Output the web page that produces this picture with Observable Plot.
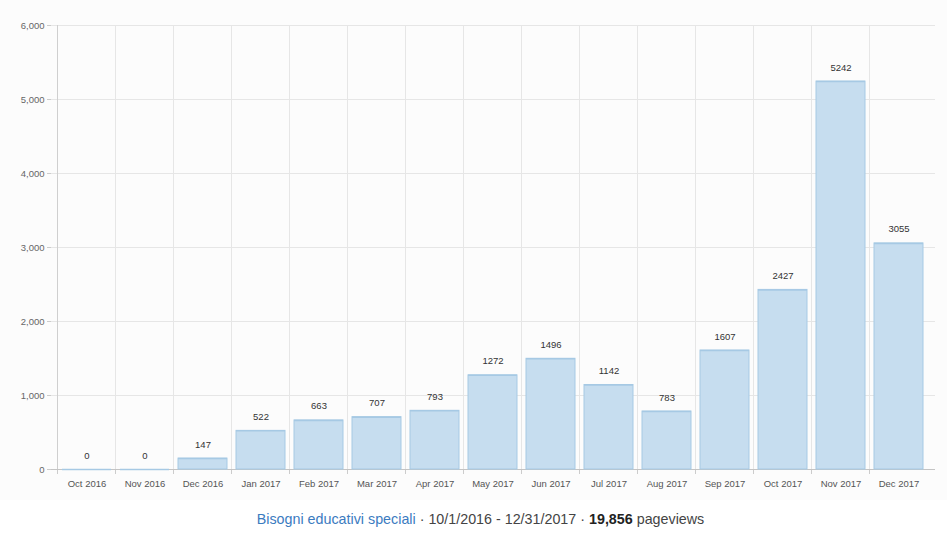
<!DOCTYPE html>
<html><head><meta charset="utf-8">
<script src="https://cdn.jsdelivr.net/npm/d3@7"></script>
<script src="https://cdn.jsdelivr.net/npm/@observablehq/plot@0.6"></script>
<style>
body{margin:0;background:#fff;font-family:"Liberation Sans",Arial,sans-serif;}
#wrap{width:947px;}
#cap{text-align:center;font-size:14.3px;color:#444;height:38px;line-height:38px;padding-left:14px;}
#cap .t{color:#3b7bbf;}
#cap b{color:#222;font-weight:bold;}
</style></head><body>
<div id="wrap"></div>
<script>
const months = ["Oct 2016","Nov 2016","Dec 2016","Jan 2017","Feb 2017","Mar 2017","Apr 2017","May 2017","Jun 2017","Jul 2017","Aug 2017","Sep 2017","Oct 2017","Nov 2017","Dec 2017"];
const pageviews = [0,0,147,522,663,707,793,1272,1496,1142,783,1607,2427,5242,3055];
const yTicks = [0,1000,2000,3000,4000,5000,6000];
const title = "Bisogni educativi speciali";
const dateRange = "10/1/2016 - 12/31/2017";
const total = "19,856";

const data = months.map((m,i)=>({month:m, value:pageviews[i]}));

const boundaries = (index, scales, values, dims) => {
  const x = scales.x, y = scales.y;
  const step = x.step(), bw = x.bandwidth();
  const g = d3.create("svg:g");
  const edges = months.map(m => x(m) - (step-bw)/2);
  edges.forEach((e,i)=>{
    g.append("line").attr("x1",e).attr("x2",e).attr("y1",dims.marginTop).attr("y2",dims.height-dims.marginBottom)
      .attr("stroke", i===0 ? "#cfcfcf" : "#e6e6e6").attr("stroke-width",1);
    g.append("line").attr("x1",e).attr("x2",e).attr("y1",y(0)).attr("y2",y(0)+5).attr("stroke","#ccc");
  });
  return g.node();
};

const chart = Plot.plot({
  width: 947,
  height: 500,
  marginTop: 25,
  marginBottom: 31,
  marginLeft: 51,
  marginRight: 12,
  style: {background:"#fcfcfc", fontFamily:"Liberation Sans, Arial, sans-serif"},
  x: {type:"band", domain: months, paddingInner: 0.15, paddingOuter: 0.075, label: null},
  y: {domain:[0,6000], label:null},
  marks: [
    Plot.gridY(yTicks, {stroke:"#e6e6e6", strokeOpacity:1}),
    boundaries,
    Plot.ruleY([0], {stroke:"#c4c4c4"}),
    Plot.barY(data, {x:"month", y:"value", fill:"#c6ddef", stroke:"#a6c9e4", strokeWidth:1}),
    Plot.tickY(data, {x:"month", y:"value", stroke:"#a6c9e4", strokeWidth:1.5}),
    Plot.text(data, {x:"month", y:"value", text: d => String(d.value), dy:-14, fontSize:9.5, fill:"#333"}),
    Plot.axisY({ticks: yTicks, tickFormat: d3.format(","), fontSize:9.5, fill:"#666", tickSize:4, tickPadding:3, stroke:"#ccc", label:null}),
    Plot.axisX({tickSize:0, tickPadding:11, fontSize:9.5, fill:"#555", label:null})
  ]
});
const wrap = document.getElementById("wrap");
wrap.appendChild(chart);
const cap = document.createElement("div");
cap.id = "cap";
cap.innerHTML = `<span class="t">${title}</span> · ${dateRange} · <b>${total}</b> pageviews`;
wrap.appendChild(cap);
</script>
</body></html>
